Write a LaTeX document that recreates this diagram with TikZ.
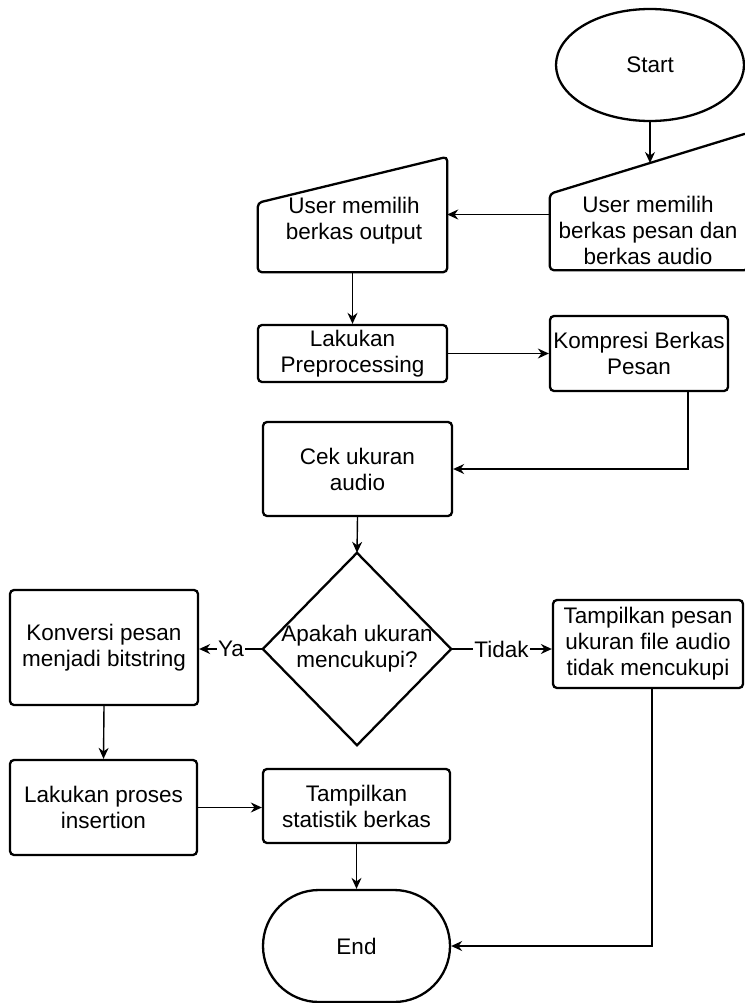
\documentclass[tikz,border=0pt]{standalone}
\usepackage{fontspec}
\setmainfont{Liberation Sans}
\usetikzlibrary{arrows.meta,calc,shapes.geometric}

\tikzset{
  box/.style={draw, line width=2.3pt, rounded corners=4pt, minimum width=#1, align=center, inner sep=0pt},
  ghost/.style={draw=none, inner sep=0pt, align=center},
  conn/.style={line width=1.4pt, -{Stealth[length=11pt,width=10pt]}},
  lbl/.style={fill=white, inner sep=1pt},
  every node/.style={font=\fontsize{22.5}{26}\selectfont},
}

\begin{document}
\begin{tikzpicture}[x=1pt,y=-1pt]
\useasboundingbox (0,0) rectangle (744,1003);

% terminals
\node[draw, line width=2.3pt, ellipse, minimum width=188pt, minimum height=112pt] (start) at (650,65) {Start};
\node[box=187pt, minimum height=112pt, rounded corners=56pt] (end) at (356.5,946) {End};

% manual input shapes (outline drawn separately, nodes give the frame)
\node[ghost, minimum width=198pt, minimum height=137pt] (inR) at (649,201.5) {};
\draw[line width=2.3pt, rounded corners=4pt]
  (inR.south west) -- ($(inR.north west)+(0,61)$) -- (inR.north east) -- (inR.south east) -- cycle;
\node[ghost] (inRt) at (648,230) {User memilih\\berkas pesan dan\\berkas audio};
\coordinate (inRtop) at (650,163);

\node[ghost, minimum width=189pt, minimum height=115pt] (inL) at (352.5,214.5) {};
\draw[line width=2.3pt, rounded corners=4pt]
  (inL.south west) -- ($(inL.north west)+(0,46)$) -- (inL.north east) -- (inL.south east) -- cycle;
\node[ghost] (inLt) at (354,221) {User memilih\\berkas output};

% process boxes
\node[box=189pt, minimum height=57pt] (prep) at (352.5,353.5) {Lakukan\\Preprocessing};
\node[box=178pt, minimum height=75pt] (komp) at (639,353.5) {Kompresi Berkas\\Pesan};
\node[box=189pt, minimum height=94pt] (cek) at (357.5,469) {Cek ukuran\\audio};
\node[box=188pt, minimum height=115pt] (konv) at (104,647.5) {Konversi pesan\\menjadi bitstring};
\node[box=190pt, minimum height=88pt] (tamp) at (648,644) {Tampilkan pesan\\ukuran file audio\\tidak mencukupi};
\node[box=187pt, minimum height=95pt] (ins) at (103.5,807.5) {Lakukan proses\\insertion};
\node[box=187pt, minimum height=74pt] (stat) at (356.5,806) {Tampilkan\\statistik berkas};

% decision
\node[ghost, minimum width=188pt, minimum height=192pt] (dec) at (357,649) {};
\draw[line width=2.3pt] (dec.north) -- (dec.east) -- (dec.south) -- (dec.west) -- cycle;
\node[ghost] (dect) at (357,649) {Apakah ukuran\\mencukupi?};

% connectors
\draw[conn] (start.south) -- (inRtop);
\draw[conn] (inL.east -| inR.west) -- (inL.east);
\draw[conn] (inL.south) -- (prep.north);
\draw[conn] (prep.east) -- (komp.west);
\draw[conn] ([xshift=49pt]komp.south) |- (cek.east);
\draw[conn] (cek.south) -- (dec.north);
\draw[conn] (dec.west) -- node[lbl] (ya) {Ya} (dec.west -| konv.east);
\draw[conn] (dec.east) -- node[lbl] (tidak) {Tidak} (dec.east -| tamp.west);
\draw[conn] (konv.south) -- (ins.north);
\draw[conn] (ins.east) -- (ins.east -| stat.west);
\draw[conn] (stat.south) -- (end.north);
\draw[conn] ([xshift=4pt]tamp.south) |- (end.east);
\end{tikzpicture}
\end{document}
